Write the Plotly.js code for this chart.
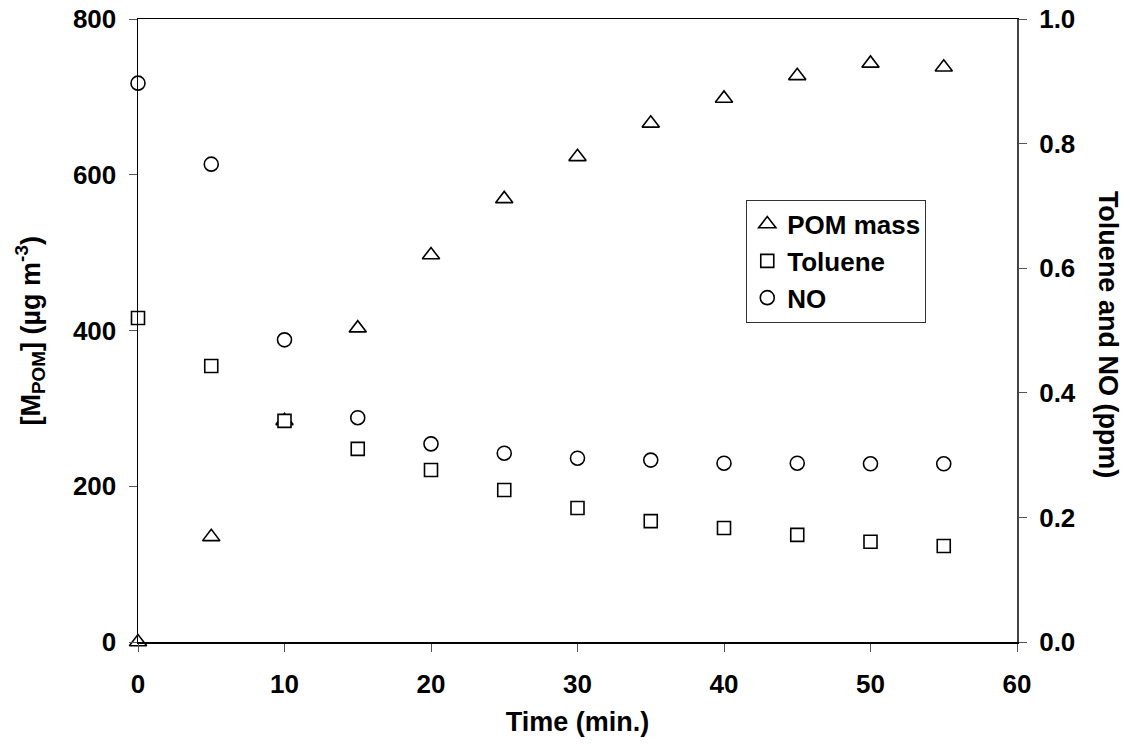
<!DOCTYPE html>
<html>
<head>
<meta charset="utf-8">
<script src="https://cdn.plot.ly/plotly-3.0.1.min.js"></script>
<style>html,body{margin:0;padding:0;background:#fff;}#chart{width:1127px;height:745px;}</style>
</head>
<body>
<div id="chart"></div>
<script>
// Data
const timeMin = [0, 5, 10, 15, 20, 25, 30, 35, 40, 45, 50, 55];
const pomMass = [0, 135, 284, 403, 497, 569, 623, 666, 698, 727, 743, 738];          // µg m^-3 (left axis)
const toluene = [0.520, 0.443, 0.355, 0.310, 0.276, 0.244, 0.215, 0.194, 0.183, 0.172, 0.161, 0.154]; // ppm (right axis)
const noConc  = [0.897, 0.767, 0.485, 0.360, 0.318, 0.303, 0.295, 0.292, 0.287, 0.287, 0.286, 0.286]; // ppm (right axis)

const xTicks = [0, 10, 20, 30, 40, 50, 60];
const yLeftTicks = [0, 200, 400, 600, 800];
const yRightTicks = [0.0, 0.2, 0.4, 0.6, 0.8, 1.0];
const yRightTickText = ["0.0", "0.2", "0.4", "0.6", "0.8", "1.0"];

const FONT = "Liberation Sans, Arial, Helvetica, sans-serif";
const mk = (sym, size) => ({symbol: sym, size: size, color: "#ffffff", line: {color: "#000000", width: 1.6}});

const traces = [
  {x: timeMin, y: pomMass, name: "POM mass", type: "scatter", mode: "markers", cliponaxis: false,
   marker: mk("triangle-up", 15), xaxis: "x", yaxis: "y"},
  {x: timeMin, y: toluene, name: "Toluene", type: "scatter", mode: "markers", cliponaxis: false,
   marker: mk("square", 13), xaxis: "x", yaxis: "y2"},
  {x: timeMin, y: noConc, name: "NO", type: "scatter", mode: "markers", cliponaxis: false,
   marker: mk("circle", 14), xaxis: "x", yaxis: "y2"}
];

const tickFont = {family: FONT, size: 26, color: "#000", weight: 700};
const titleFont = {family: FONT, size: 27, color: "#000", weight: 700};
const layout = {
  width: 1127, height: 745,
  margin: {l: 138, r: 110, t: 19, b: 103},
  paper_bgcolor: "#fff", plot_bgcolor: "#fff",
  font: {family: FONT, color: "#000"},
  showlegend: true,
  legend: {
    x: 0.692, y: 0.710, xanchor: "left", yanchor: "top",
    bordercolor: "#333", borderwidth: 1, bgcolor: "#fff",
    font: {family: FONT, size: 26, color: "#000", weight: 700},
    traceorder: "normal",
    itemwidth: 30
  },
  xaxis: {
    range: [0, 60], tickvals: xTicks, ticktext: xTicks.map(String),
    showgrid: false, zeroline: false,
    showline: true, linecolor: "#000", linewidth: 1.5, mirror: true,
    ticks: "outside", ticklen: 8, tickwidth: 1, tickcolor: "#555",
    tickfont: tickFont, ticklabelstandoff: 10,
    title: {text: "Time (min.)", font: titleFont, standoff: 14},
    automargin: false
  },
  yaxis: {
    range: [0, 800], tickvals: yLeftTicks, ticktext: yLeftTicks.map(String),
    showgrid: false, zeroline: false,
    showline: true, linecolor: "#000", linewidth: 1.5,
    ticks: "outside", ticklen: 8, tickwidth: 1, tickcolor: "#555",
    tickfont: tickFont, ticklabelstandoff: 7,
    automargin: false
  },
  yaxis2: {
    range: [0, 1.0], tickvals: yRightTicks, ticktext: yRightTickText,
    overlaying: "y", side: "right",
    showgrid: false, zeroline: false,
    showline: true, linecolor: "#444", linewidth: 2,
    ticks: "outside", ticklen: 8, tickwidth: 1, tickcolor: "#555",
    tickfont: tickFont, ticklabelstandoff: 7,
    automargin: false
  },
  annotations: [{
    text: "[M<sub>POM</sub>] (µg m<sup>-3</sup>)", xref: "paper", yref: "paper",
    x: -0.1229, y: 0.50, xanchor: "center", yanchor: "middle",
    textangle: -90, showarrow: false, font: titleFont
  }, {
    text: "Toluene and NO (ppm)", xref: "paper", yref: "paper",
    x: 1.1035, y: 0.493, xanchor: "center", yanchor: "middle",
    textangle: 90, showarrow: false, font: titleFont
  }]
};

Plotly.newPlot("chart", traces, layout, {displayModeBar: false, staticPlot: true});
</script>
</body>
</html>
